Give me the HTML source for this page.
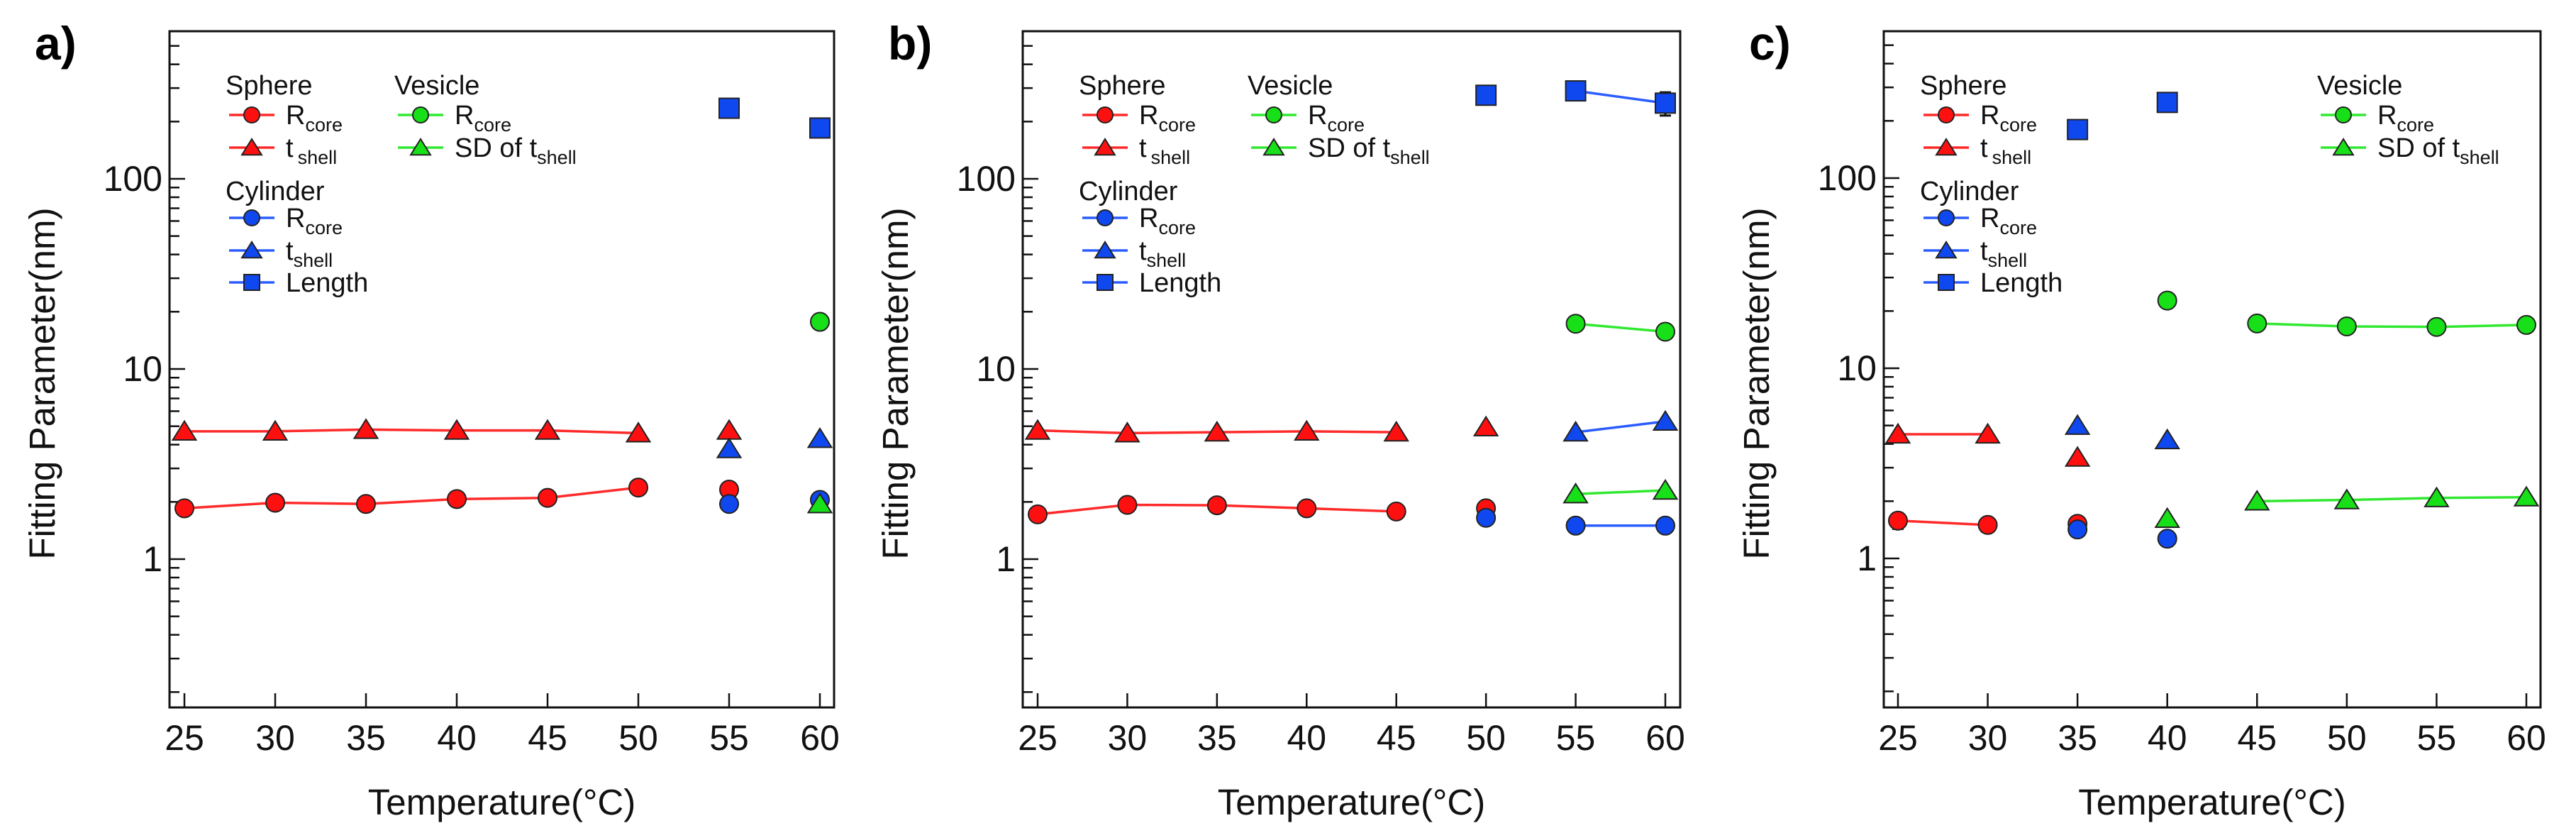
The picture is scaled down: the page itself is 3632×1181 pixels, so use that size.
<!DOCTYPE html>
<html><head><meta charset="utf-8"><style>
html,body{margin:0;padding:0;background:#fff;}
svg{display:block;font-family:"Liberation Sans",Arial,sans-serif;}
</style></head><body>
<svg id="fig" width="3632" height="1181" viewBox="0 0 3632 1181" xmlns="http://www.w3.org/2000/svg"></svg>
<script>
// ---- data (series as segments of [temperature, value]) ----
const xTicks = [25,30,35,40,45,50,55,60];
const yMajor = [1,10,100];
const yMajorLabels = ["1","10","100"];

const aSphereR = [[[25,1.85],[30,1.98],[35,1.95],[40,2.07],[45,2.1],[50,2.38]],[[55,2.32]]];
const aSphereT = [[[25,4.7],[30,4.7],[35,4.8],[40,4.75],[45,4.75],[50,4.6]],[[55,4.75]]];
const aCylR = [[[55,1.95]],[[60,2.05]]];
const aCylT = [[[55,3.8]],[[60,4.3]]];
const aCylL = [[[55,235]],[[60,185]]];
const aVesR = [[[60,17.7]]];
const aVesSD = [[[60,1.95]]];

const bSphereR = [[[25,1.72],[30,1.93],[35,1.92],[40,1.85],[45,1.78]],[[50,1.85]]];
const bSphereT = [[[25,4.75],[30,4.6],[35,4.65],[40,4.7],[45,4.65]],[[50,4.95]]];
const bCylR = [[[50,1.65]],[[55,1.5],[60,1.5]]];
const bCylT = [[[55,4.65],[60,5.3]]];
const bCylL = [[[50,275]],[[55,290],[60,250]]];
const bVesR = [[[55,17.3],[60,15.7]]];
const bVesSD = [[[55,2.2],[60,2.3]]];

const cSphereR = [[[25,1.58],[30,1.5]],[[35,1.52]]];
const cSphereT = [[[25,4.5],[30,4.5]],[[35,3.4]]];
const cCylR = [[[35,1.42]],[[40,1.27]]];
const cCylT = [[[35,5.0]],[[40,4.2]]];
const cCylL = [[[35,180]],[[40,250]]];
const cVesR = [[[40,22.7]],[[45,17.2],[50,16.6],[55,16.5],[60,16.9]]];
const cVesSD = [[[40,1.62]],[[45,2.0],[50,2.03],[55,2.08],[60,2.1]]];

const NS = "http://www.w3.org/2000/svg";
const svg = document.getElementById('fig');
const RED="#ff1010", BLUE="#1048f0", GREEN="#18e018";
const LRED="#ff2a2a", LBLUE="#2a5cff", LGREEN="#30e830";

function el(tag, attrs, parent){
  const e=document.createElementNS(NS,tag);
  for(const k in attrs) e.setAttribute(k,attrs[k]);
  (parent||svg).appendChild(e); return e;
}
function marker(g, shape, x, y, fill, s){
  let m;
  if(shape==='circle'){ m=el('circle',{cx:x,cy:y,r:s,fill:fill,stroke:'#222','stroke-width':2},g); }
  else if(shape==='tri'){ const h=s*1.1; m=el('polygon',{points:`${x},${y-h} ${x+h*1.15},${y+h*0.85} ${x-h*1.15},${y+h*0.85}`,fill:fill,stroke:'#222','stroke-width':2},g); }
  else { m=el('rect',{x:x-s,y:y-s,width:2*s,height:2*s,fill:fill,stroke:'#222','stroke-width':2},g); }
  return m;
}

function panel(cfg){
  const {left,right,top,bottom,x25,x60,y100,y1,label,series,legend} = cfg;
  const dec=(y1-y100)/2;
  const X=t=>x25+(t-25)*(x60-x25)/35;
  const Y=v=>y1-Math.log10(v)*dec;
  const g=el('g',{});
  
  
  const lab=el('text',{x:left-190,y:84,'font-size':66,'font-weight':'bold',fill:'#000'},g);
  lab.textContent=label+')';
  
  
  const frame=el('rect',{x:left,y:top,width:right-left,height:bottom-top,fill:'none',stroke:'#111','stroke-width':3},g);
  
  
  for(let d=-1; d<=2; d++){
    for(let m=1;m<=9;m++){
      const v=m*Math.pow(10,d); const y=Y(v);
      if(y<top+2||y>bottom-2) continue;
      const len=(m===1)?22:14;
      const tk=el('line',{x1:left,y1:y,x2:left+len,y2:y,stroke:'#111','stroke-width':2.5},g);
      
      
    }
  }
  yMajor.forEach((v,i)=>{
    const t=el('text',{x:left-10,y:Y(v)+17,'font-size':50,'text-anchor':'end',fill:'#111'},g);
    t.textContent=yMajorLabels[i];
    
    
  });
  xTicks.forEach(t=>{
    const x=X(t);
    const tk=el('line',{x1:x,y1:bottom,x2:x,y2:bottom-20,stroke:'#111','stroke-width':2.5},g);
    
    
    const tl=el('text',{x:x,y:bottom+60,'font-size':50,'text-anchor':'middle',fill:'#111'},g);
    tl.textContent=t;
    
    
  });
  const xt=el('text',{x:(left+right)/2,y:1148,'font-size':51,'text-anchor':'middle',fill:'#111'},g);
  xt.textContent='Temperature(°C)';
  
  
  const yt=el('text',{x:0,y:0,'font-size':51,'text-anchor':'middle',fill:'#111',transform:`translate(${left-162},${(top+bottom)/2+20}) rotate(-90)`},g);
  yt.textContent='Fitting Parameter(nm)';
  
  
  series.forEach(s=>{
    const sg=el('g',{},g);
    
    
    s.data.forEach(seg=>{
      if(seg.length>1){
        const ln=el('polyline',{points:seg.map(p=>X(p[0])+','+Y(p[1])).join(' '),fill:'none',stroke:s.line,'stroke-width':3.5},sg);
        
        
      }
    });
    s.data.forEach(seg=>seg.forEach(p=>{
      if(s.err){
        const e=s.err[p[0]];
        if(e){
          const eb=el('path',{d:`M${X(p[0])},${Y(p[1]+e)}V${Y(p[1]-e)}M${X(p[0])-8},${Y(p[1]+e)}h16M${X(p[0])-8},${Y(p[1]-e)}h16`,stroke:'#111','stroke-width':3,fill:'none'},sg);
          
          
        }
      }
      const m=marker(sg,s.shape,X(p[0]),Y(p[1]),s.fill,s.shape==='sq'?14:13);
      
      
    }));
  });
  const lg=el('g',{},g);
  
  
  function hdr(x,y,txt){ const t=el('text',{x:x,y:y,'font-size':38,fill:'#111'},lg); t.textContent=txt;
      }
  function entry(x,y,shape,fill,line,main,sub,gap){
    const ln=el('line',{x1:x,y1:y,x2:x+64,y2:y,stroke:line,'stroke-width':3.5},lg);
     
    const m=marker(lg,shape,x+32,y,fill,11);
     
    const t=el('text',{x:x+80,y:y+13,'font-size':38,fill:'#111'},lg);
     
    const t1=document.createElementNS(NS,'tspan'); t1.textContent=main; t.appendChild(t1);
    if(sub){ const t2=document.createElementNS(NS,'tspan'); t2.setAttribute('font-size',27); t2.setAttribute('dy',10); if(gap) t2.setAttribute('dx',6); t2.textContent=sub; t.appendChild(t2); }
  }
  const L=legend;
  hdr(L.x-5,133,'Sphere');
  entry(L.x,162,'circle',RED,LRED,'R','core');
  entry(L.x,208,'tri',RED,LRED,'t','shell',true);
  hdr(L.x-5,282,'Cylinder');
  entry(L.x,307,'circle',BLUE,LBLUE,'R','core');
  entry(L.x,353,'tri',BLUE,LBLUE,'t','shell');
  entry(L.x,398,'sq',BLUE,LBLUE,'Length',null);
  hdr(L.vx-5,133,'Vesicle');
  entry(L.vx,162,'circle',GREEN,LGREEN,'R','core');
  entry(L.vx,208,'tri',GREEN,LGREEN,'SD of t','shell');
}

function mk(sR,sT,cR,cT,cL,vR,vSD,lErr,sErr){
  return [
    {name:'sphere-tshell',data:sT,shape:'tri',fill:RED,line:LRED},
    {name:'sphere-rcore',data:sR,shape:'circle',fill:RED,line:LRED,err:sErr},
    {name:'cylinder-rcore',data:cR,shape:'circle',fill:BLUE,line:LBLUE},
    {name:'cylinder-tshell',data:cT,shape:'tri',fill:BLUE,line:LBLUE},
    {name:'cylinder-length',data:cL,shape:'sq',fill:BLUE,line:LBLUE,err:lErr},
    {name:'vesicle-rcore',data:vR,shape:'circle',fill:GREEN,line:LGREEN},
    {name:'vesicle-sd-tshell',data:vSD,shape:'tri',fill:GREEN,line:LGREEN}
  ];
}

panel({left:239,right:1176,top:44,bottom:997,x25:260,x60:1156,y100:252,y1:788,label:'a',
  series:mk(aSphereR,aSphereT,aCylR,aCylT,aCylL,aVesR,aVesSD,null,null),legend:{x:323,vx:561}});
panel({left:1442,right:2369,top:44,bottom:997,x25:1463,x60:2348,y100:252,y1:788,label:'b',
  series:mk(bSphereR,bSphereT,bCylR,bCylT,bCylL,bVesR,bVesSD,{55:25,60:35},null),legend:{x:1526,vx:1764}});
panel({left:2656,right:3582,top:44,bottom:997,x25:2676,x60:3562,y100:251,y1:787,label:'c',
  series:mk(cSphereR,cSphereT,cCylR,cCylT,cCylL,cVesR,cVesSD,null,{25:0.15}),legend:{x:2712,vx:3272}});
</script>
</body></html>
